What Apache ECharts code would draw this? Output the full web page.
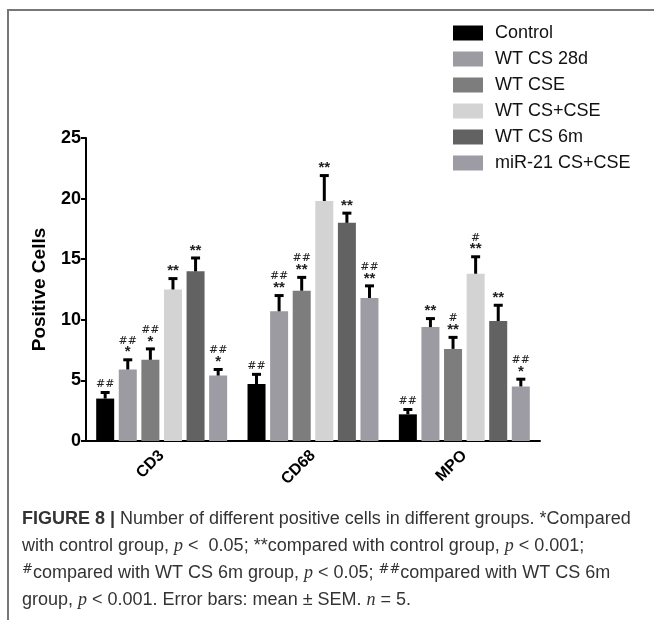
<!DOCTYPE html>
<html>
<head>
<meta charset="utf-8">
<script src="https://cdn.jsdelivr.net/npm/echarts@6/dist/echarts.min.js"></script>
<style>
  html, body { margin: 0; padding: 0; background: #fff; }
  #chart { width: 654px; height: 627px; }
</style>
</head>
<body>
<div id="chart"></div>
<script>
const categories = ['CD3', 'CD68', 'MPO']
const groups = ['Control', 'WT CS 28d', 'WT CSE', 'WT CS+CSE', 'WT CS 6m', 'miR-21 CS+CSE']
const yTicks = [0, 5, 10, 15, 20, 25]

// means (CD3, CD68, MPO)
const control = [3.5, 4.7, 2.2]
const cs28d = [5.9, 10.7, 9.4]
const cse = [6.7, 12.4, 7.6]
const csCse = [12.5, 19.8, 13.8]
const cs6m = [14.0, 18.0, 9.9]
const mir21 = [5.4, 11.8, 4.5]

// SEM (upper whisker length)
const controlSem = [0.5, 0.8, 0.4]
const cs28dSem = [0.8, 1.3, 0.7]
const cseSem = [0.9, 1.1, 0.95]
const csCseSem = [0.9, 2.1, 1.4]
const cs6mSem = [1.1, 0.8, 1.3]
const mir21Sem = [0.5, 1.0, 0.6]

// significance marks
const starMarks = [
  ['', '', ''],
  ['*', '**', '**'],
  ['*', '**', '**'],
  ['**', '**', '**'],
  ['**', '**', '**'],
  ['*', '**', '*']
]
const hashMarks = [
  ['##', '##', '##'],
  ['##', '##', ''],
  ['##', '##', '#'],
  ['', '', '#'],
  ['', '', ''],
  ['##', '##', '##']
]

const means = [control, cs28d, cse, csCse, cs6m, mir21]
const sems = [controlSem, cs28dSem, cseSem, csCseSem, cs6mSem, mir21Sem]
const colors = ['#000000', '#9b9ba1', '#7d7d7d', '#d3d3d3', '#626262', '#9d9ca4']

const BAR_W = 18
const STEP = 22.6

let myChart = echarts.init(document.getElementById('chart'))

let series = []
groups.forEach(function (g, i) {
  series.push({
    name: g,
    type: 'bar',
    barWidth: BAR_W,
    barGap: '25.5%',
    itemStyle: { color: colors[i] },
    data: means[i]
  })
})

groups.forEach(function (g, i) {
  series.push({
    name: g + ' err',
    type: 'custom',
    z: 5,
    renderItem: function (params, api) {
      const ci = api.value(0)
      const m = api.value(1)
      const e = api.value(2)
      const base = api.coord([ci, m])
      const top = api.coord([ci, m + e])
      const x = base[0] + (i - 2.5) * STEP
      const h = hashMarks[i][params.dataIndex]
      const s = starMarks[i][params.dataIndex]
      let parts = []
      if (h) parts.push('{h|' + h + '}')
      if (s) parts.push('{s|' + s + '}')
      return {
        type: 'group',
        children: [
          { type: 'line', shape: { x1: x, y1: base[1], x2: x, y2: top[1] }, style: { stroke: '#000', lineWidth: 3 } },
          { type: 'line', shape: { x1: x - 4.5, y1: top[1], x2: x + 4.5, y2: top[1] }, style: { stroke: '#000', lineWidth: 3 } },
          {
            type: 'text',
            style: {
              text: parts.join('\n'),
              x: x,
              y: top[1] - 2,
              align: 'center',
              verticalAlign: 'bottom',
              rich: {
                h: { fontFamily: 'DejaVu Serif', fontSize: 11, lineHeight: 12, fill: '#222' },
                s: { fontFamily: 'Liberation Sans', fontWeight: 'bold', fontSize: 15, lineHeight: 11, fill: '#222' }
              }
            }
          }
        ]
      }
    },
    data: categories.map(function (c, k) { return [k, means[i][k], sems[i][k]] })
  })
})

let option = {
  animation: false,
  backgroundColor: '#fff',
  title: {
    left: 22,
    top: 506,
    padding: 0,
    text: '{b|FIGURE 8 |} Number of different positive cells in different groups. *Compared\n' +
      'with control group, {i|p} <  0.05; **compared with control group, {i|p} < 0.001;\n' +
      '{sup|#}compared with WT CS 6m group, {i|p} < 0.05; {sup|##}compared with WT CS 6m\n' +
      'group, {i|p} < 0.001. Error bars: mean ± SEM. {i|n} = 5.',
    textStyle: {
      fontFamily: 'Liberation Sans',
      fontSize: 18,
      fontWeight: 'normal',
      color: '#333',
      lineHeight: 27,
      rich: {
        b: { fontFamily: 'Liberation Sans', fontWeight: 'bold', fontSize: 18, color: '#333', lineHeight: 27 },
        i: { fontFamily: 'Liberation Serif', fontStyle: 'italic', fontSize: 18, color: '#333', lineHeight: 27 },
        sup: { fontFamily: 'DejaVu Serif', fontSize: 13, color: '#333', lineHeight: 27, padding: [0, 0, 8, 0] }
      }
    }
  },
  legend: {
    orient: 'vertical',
    left: 453,
    top: 24,
    padding: 0,
    itemWidth: 30,
    itemHeight: 15,
    itemGap: 8,
    icon: 'rect',
    data: groups,
    textStyle: { fontFamily: 'Liberation Sans', fontSize: 18, color: '#111', padding: [0, 0, 0, 7] }
  },
  grid: { left: 86, right: 114, top: 138, bottom: 186, containLabel: false },
  xAxis: {
    type: 'category',
    data: categories,
    axisLine: { lineStyle: { color: '#000', width: 2 } },
    axisTick: { alignWithLabel: true, length: 6, lineStyle: { color: '#000', width: 2 } },
    axisLabel: { rotate: 45, margin: 12, fontFamily: 'Liberation Sans', fontWeight: 'bold', fontSize: 16, color: '#000' }
  },
  yAxis: {
    type: 'value',
    min: yTicks[0],
    max: yTicks[yTicks.length - 1],
    interval: 5,
    name: 'Positive Cells',
    nameLocation: 'middle',
    nameGap: 37,
    nameTextStyle: { fontFamily: 'Liberation Sans', fontWeight: 'bold', fontSize: 19, color: '#000' },
    axisLine: { show: true, lineStyle: { color: '#000', width: 2 } },
    axisTick: { show: true, length: 5, lineStyle: { color: '#000', width: 2 } },
    axisLabel: { margin: 5, fontFamily: 'Liberation Sans', fontWeight: 'bold', fontSize: 18, color: '#000' },
    splitLine: { show: false }
  },
  graphic: [
    { type: 'line', shape: { x1: 7, y1: 10, x2: 654, y2: 10 }, style: { stroke: '#777', lineWidth: 2 } },
    { type: 'line', shape: { x1: 8, y1: 10, x2: 8, y2: 620 }, style: { stroke: '#777', lineWidth: 2 } }
  ],
  series: series
}

myChart.setOption(option, true)
</script>
</body>
</html>
